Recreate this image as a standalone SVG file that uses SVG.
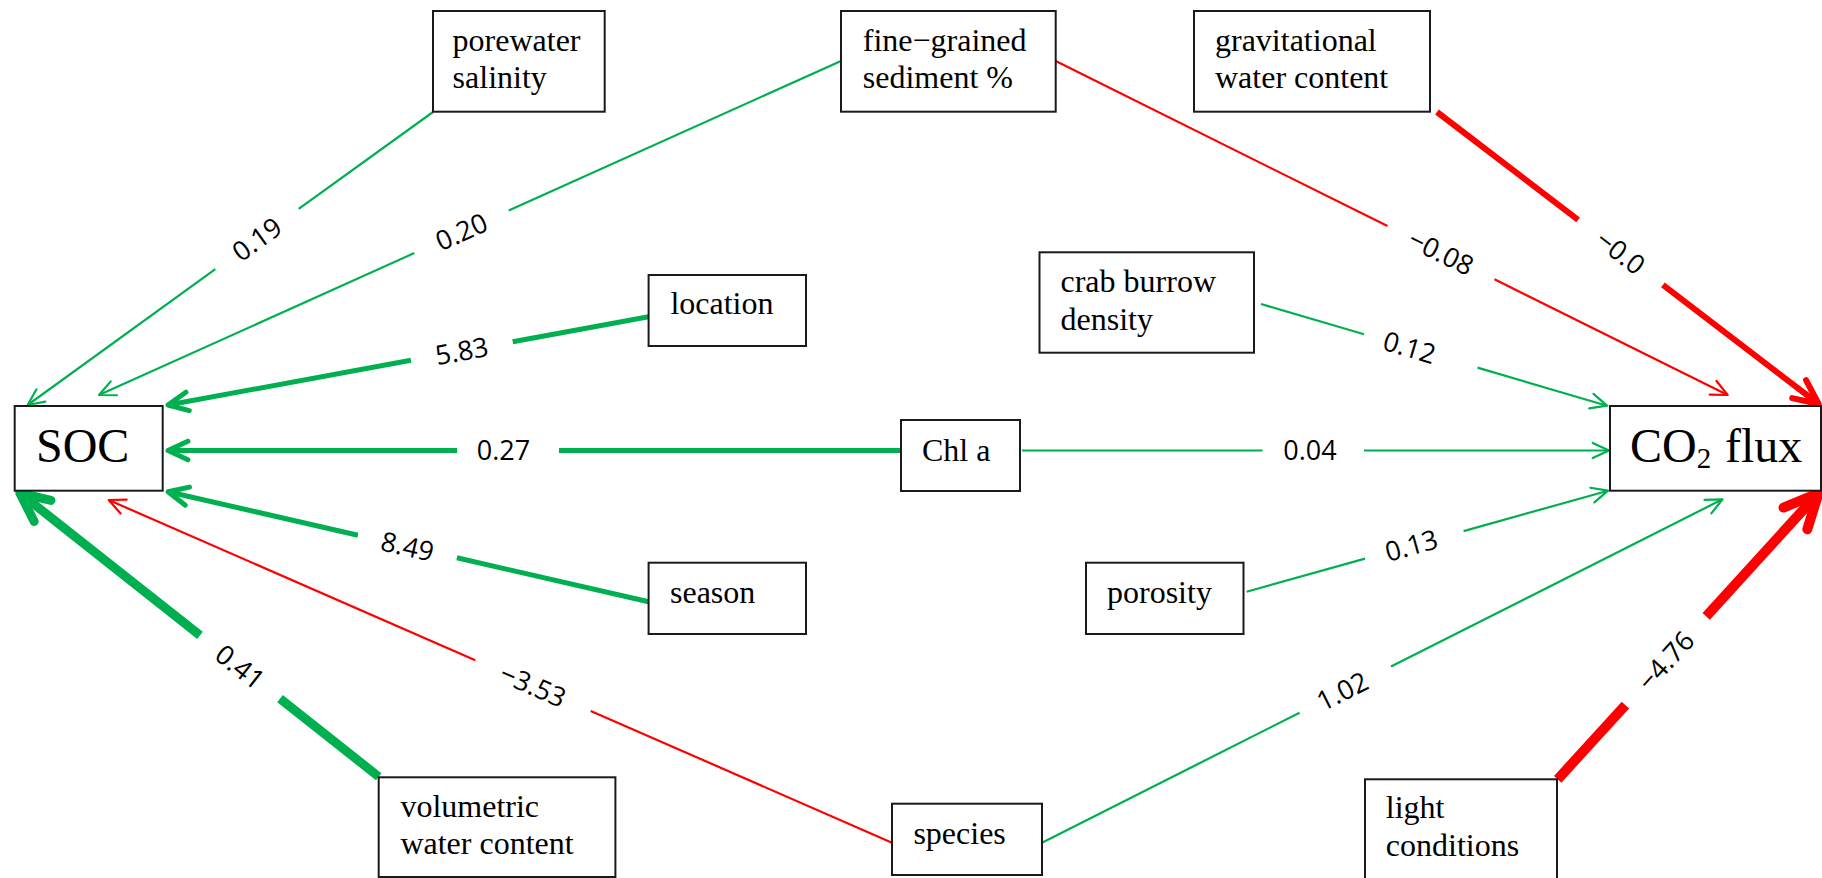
<svg xmlns="http://www.w3.org/2000/svg" width="1822" height="878" viewBox="0 0 1822 878">
<style>
.node rect{fill:#fff;stroke:#1a1a1a;stroke-width:2}
.node text{font-family:"Liberation Serif","Times New Roman",serif;font-size:32px;fill:#000}
.node text.big{font-size:48px}
.node text.big tspan.sub{font-size:29px}
.e{fill:none;stroke-linecap:butt}
.g{stroke:#00b050}
.r{stroke:#ff0000}
.w2{stroke-width:2.2}
.w5{stroke-width:5}
.w6{stroke-width:6}
.w9{stroke-width:9}
.w10{stroke-width:10}
.lbl{font-family:"Open Sans","Noto Sans","Liberation Sans",sans-serif;font-size:27px;fill:#000;text-anchor:middle}
.ah{fill:none;stroke-linecap:round;stroke-linejoin:round}
</style>
<defs>
<marker id="ag2" markerUnits="userSpaceOnUse" orient="auto" refX="0" refY="0" markerWidth="60" markerHeight="60" viewBox="-50 -30 60 60" style="overflow:visible"><path class="ah" d="M-16.3,-7.6 L0,0 L-16.3,7.6" stroke="#00b050" stroke-width="2.2"/></marker>
<marker id="ar2" markerUnits="userSpaceOnUse" orient="auto" refX="0" refY="0" markerWidth="60" markerHeight="60" viewBox="-50 -30 60 60" style="overflow:visible"><path class="ah" d="M-16.3,-7.6 L0,0 L-16.3,7.6" stroke="#ff0000" stroke-width="2.2"/></marker>
<marker id="ag5" markerUnits="userSpaceOnUse" orient="auto" refX="0" refY="0" markerWidth="60" markerHeight="60" viewBox="-50 -30 60 60" style="overflow:visible"><path class="ah" d="M-19.9,-9.3 L0,0 L-19.9,9.3" stroke="#00b050" stroke-width="5"/></marker>
<marker id="ag9" markerUnits="userSpaceOnUse" orient="auto" refX="0" refY="0" markerWidth="60" markerHeight="60" viewBox="-50 -30 60 60" style="overflow:visible"><path class="ah" d="M-29,-13.5 L0,0 L-29,13.5" stroke="#00b050" stroke-width="9"/></marker>
<marker id="ar6" markerUnits="userSpaceOnUse" orient="auto" refX="0" refY="0" markerWidth="60" markerHeight="60" viewBox="-50 -30 60 60" style="overflow:visible"><path class="ah" d="M-24.5,-11.4 L0,0 L-24.5,11.4" stroke="#ff0000" stroke-width="6"/></marker>
<marker id="ar10" markerUnits="userSpaceOnUse" orient="auto" refX="0" refY="0" markerWidth="60" markerHeight="60" viewBox="-50 -30 60 60" style="overflow:visible"><path class="ah" d="M-34.4,-16.1 L0,0 L-34.4,16.1" stroke="#ff0000" stroke-width="10"/></marker>
</defs>
<rect width="1822" height="878" fill="#fff"/>

<g id="connectors">
<path class="e g w2" d="M433,112 L298.7,208.8 M215.3,269.2 L27.7,405" marker-end="url(#ag2)"/>
<path class="e g w2" d="M841,61 L508.7,210.5 M414.3,253.1 L99,395" marker-end="url(#ag2)"/>
<path class="e g w5" d="M648.6,316.7 L512.7,341.7 M410.9,360.3 L168,405" marker-end="url(#ag5)"/>
<path class="e g w5" d="M901,450.5 L559,450.5 M457,450.5 L168,450.5" marker-end="url(#ag5)"/>
<path class="e g w5" d="M648.6,601.7 L456.9,557.8 M357.9,535.2 L168,491.7" marker-end="url(#ag5)"/>
<path class="e r w2" d="M892,842.7 L590.7,710.9 M475.3,660.3 L108.7,500" marker-end="url(#ar2)"/>
<path class="e g w9" d="M378.7,776.7 L280,698.6 M200,635.4 L19.8,493" marker-end="url(#ag9)"/>
<path class="e r w2" d="M1055.7,61 L1387.5,226.1 M1494.5,279.3 L1727.7,395" marker-end="url(#ar2)"/>
<path class="e r w6" d="M1437,112 L1578.1,219.9 M1662.9,284.9 L1818.6,404" marker-end="url(#ar6)"/>
<path class="e g w2" d="M1261,304 L1364,334.3 M1477.5,367.6 L1607,405.7" marker-end="url(#ag2)"/>
<path class="e g w2" d="M1022,450.5 L1262.5,450.5 M1364,450.5 L1609,450.5" marker-end="url(#ag2)"/>
<path class="e g w2" d="M1246.6,591.7 L1365,558.6 M1463.6,531.1 L1608,490.7" marker-end="url(#ag2)"/>
<path class="e g w2" d="M1042,842.7 L1299.6,712.7 M1391,666.6 L1722.5,499.3" marker-end="url(#ag2)"/>
<path class="e r w10" d="M1557.7,779.3 L1625.4,705.1 M1706.2,616.3 L1818.6,493" marker-end="url(#ar10)"/>

<text class="lbl" x="257" y="248.8" transform="rotate(-35.9 257 239.2)">0.19</text>
<text class="lbl" x="461.5" y="241.4" transform="rotate(-24.2 461.5 231.8)">0.20</text>
<text class="lbl" x="461.8" y="360.6" transform="rotate(-10.4 461.8 351)">5.83</text>
<text class="lbl" x="503.5" y="460.1">0.27</text>
<text class="lbl" x="407.4" y="556.1" transform="rotate(12.9 407.4 546.5)">8.49</text>
<text class="lbl" x="533" y="695.2" transform="rotate(23.6 533 685.6)">−3.53</text>
<text class="lbl" x="240" y="676.7" transform="rotate(38.3 240 667.1)">0.41</text>
<text class="lbl" x="1441" y="262.1" transform="rotate(26.4 1441 252.5)">−0.08</text>
<text class="lbl" x="1620.5" y="262" transform="rotate(37.6 1620.5 252.4)">−0.0</text>
<text class="lbl" x="1409.5" y="357.2" transform="rotate(16.4 1409.5 347.6)">0.12</text>
<text class="lbl" x="1310" y="460.1">0.04</text>
<text class="lbl" x="1411.4" y="555.1" transform="rotate(-15.6 1411.4 545.5)">0.13</text>
<text class="lbl" x="1342.3" y="700.8" transform="rotate(-26.8 1342.3 691.2)">1.02</text>
<text class="lbl" x="1665.8" y="670.3" transform="rotate(-47.7 1665.8 660.7)">−4.76</text>
</g>

<g id="node-porewater" class="node"><rect x="433" y="11" width="171.7" height="100.7"/><text x="452.6" y="50.7">porewater</text><text x="452.6" y="88.3">salinity</text></g>
<g id="node-fine" class="node"><rect x="841" y="11" width="214.7" height="100.7"/><text x="862.8" y="50.5">fine−grained</text><text x="862.8" y="88.3">sediment %</text></g>
<g id="node-gravitational" class="node"><rect x="1194" y="11" width="236" height="100.7"/><text x="1215" y="50.5">gravitational</text><text x="1215" y="88.3">water content</text></g>
<g id="node-location" class="node"><rect x="648.6" y="275" width="157.4" height="71"/><text x="670.4" y="314.3">location</text></g>
<g id="node-crab" class="node"><rect x="1039.5" y="252.3" width="214.5" height="100.4"/><text x="1060.5" y="292.3">crab burrow</text><text x="1060.5" y="330">density</text></g>
<g id="node-SOC" class="node"><rect x="14.7" y="406" width="148" height="84.7"/><text class="big" x="36" y="461.7">SOC</text></g>
<g id="node-chla" class="node"><rect x="901" y="420" width="119" height="71"/><text x="922" y="460.7">Chl a</text></g>
<g id="node-CO2" class="node"><rect x="1610" y="406" width="211" height="84.7"/><text class="big" x="1630" y="461.7">CO<tspan class="sub" dy="6.6">2</tspan><tspan x="1725" dy="-6.6">flux</tspan></text></g>
<g id="node-season" class="node"><rect x="648.6" y="562.7" width="157.4" height="71.3"/><text x="670" y="602.7">season</text></g>
<g id="node-porosity" class="node"><rect x="1086" y="562.7" width="157.5" height="71.3"/><text x="1107" y="602.7">porosity</text></g>
<g id="node-volumetric" class="node"><rect x="378.7" y="777.3" width="236.7" height="99.7"/><text x="400.4" y="816.7">volumetric</text><text x="400.4" y="854.3">water content</text></g>
<g id="node-species" class="node"><rect x="892" y="803.7" width="150" height="71.3"/><text x="913.4" y="844">species</text></g>
<g id="node-light" class="node"><rect x="1365" y="779.3" width="192" height="105"/><text x="1385.8" y="818">light</text><text x="1385.8" y="856">conditions</text></g>
</svg>
